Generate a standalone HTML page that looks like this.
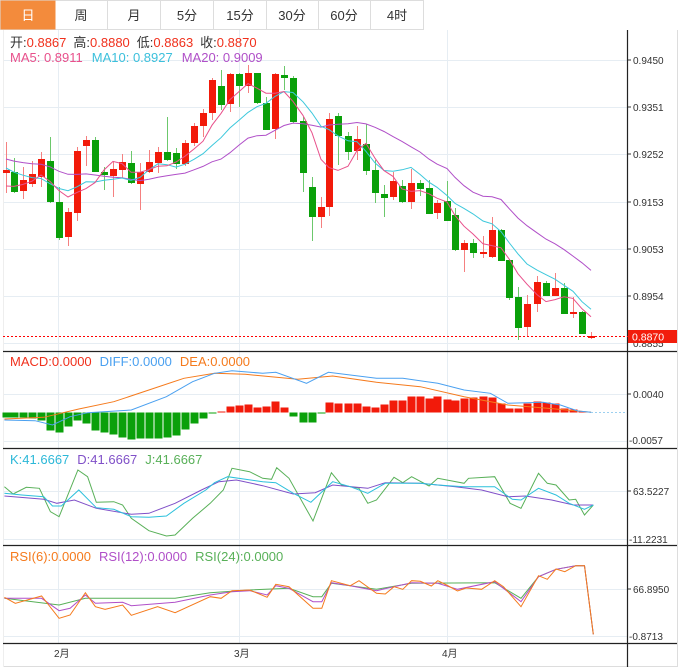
<!DOCTYPE html><html><head><meta charset="utf-8"><style>
body{margin:0;background:#fff;width:683px;height:670px;overflow:hidden;font-family:"Liberation Sans","Noto Sans CJK SC",sans-serif}
svg{position:absolute;left:0;top:0}
text{font-family:"Liberation Sans","Noto Sans CJK SC",sans-serif}
</style></head><body>
<svg id="s" width="683" height="670" xmlns="http://www.w3.org/2000/svg">
<rect x="0" y="0" width="683" height="670" fill="#fff"/>
<rect x="0.5" y="0.5" width="423" height="29" fill="#fff" stroke="#ddd"/>
<rect x="0.5" y="0.5" width="55" height="29" fill="#F38B3C"/>
<g stroke="#ddd"><line x1="107.5" y1="0" x2="107.5" y2="30"/><line x1="160.5" y1="0" x2="160.5" y2="30"/><line x1="213.5" y1="0" x2="213.5" y2="30"/><line x1="266.5" y1="0" x2="266.5" y2="30"/><line x1="318.5" y1="0" x2="318.5" y2="30"/><line x1="370.5" y1="0" x2="370.5" y2="30"/></g>
<g font-size="13" text-anchor="middle" fill="#333">
<text x="28" y="20" fill="#fff">日</text><text x="81" y="20">周</text><text x="134" y="20">月</text><text x="187" y="20">5分</text><text x="240" y="20">15分</text><text x="292" y="20">30分</text><text x="344" y="20">60分</text><text x="397" y="20">4时</text></g>
<line x1="3" y1="666.5" x2="677" y2="666.5" stroke="#ddd"/>
<line x1="677.5" y1="30" x2="677.5" y2="667" stroke="#ddd"/>
<line x1="3.5" y1="30" x2="3.5" y2="667" stroke="#eee"/>
<g id="grid" stroke="#e6edf3" stroke-width="1"></g>
<g id="draw"></g>
<g stroke="#222" stroke-width="1.2">
<line x1="3" y1="351.5" x2="677" y2="351.5"/><line x1="3" y1="448.5" x2="677" y2="448.5"/><line x1="3" y1="545.5" x2="677" y2="545.5"/><line x1="3" y1="643.5" x2="677" y2="643.5"/>
<line x1="627.5" y1="30" x2="627.5" y2="667"/></g>
<g font-size="10" fill="#333">
<text x="633" y="64">0.9450</text><text x="633" y="111">0.9351</text><text x="633" y="158">0.9252</text><text x="633" y="206">0.9153</text><text x="633" y="253">0.9053</text><text x="633" y="300">0.8954</text>
<text x="633" y="347">0.8855</text>
<text x="633" y="398">0.0040</text><text x="629" y="444">-0.0057</text>
<text x="633" y="495">63.5227</text><text x="629" y="543">-11.2231</text>
<text x="633" y="593">66.8950</text><text x="629" y="640">-0.8713</text>
<text x="54" y="657">2月</text><text x="234" y="657">3月</text><text x="442" y="657">4月</text>
</g>
<g stroke="#333"><line x1="628" y1="60" x2="631" y2="60"/><line x1="628" y1="107" x2="631" y2="107"/><line x1="628" y1="154" x2="631" y2="154"/><line x1="628" y1="202" x2="631" y2="202"/><line x1="628" y1="249" x2="631" y2="249"/><line x1="628" y1="296" x2="631" y2="296"/><line x1="628" y1="394" x2="631" y2="394"/><line x1="628" y1="491" x2="631" y2="491"/><line x1="628" y1="589" x2="631" y2="589"/></g>
<line x1="3" y1="336.5" x2="628" y2="336.5" stroke="#f00" stroke-dasharray="2,2"/>
<rect x="628" y="330" width="49" height="13" fill="#f21d0c"/>
<text x="632" y="340.5" font-size="10.5" fill="#fff">0.8870</text>
<g font-size="13">
<text x="10" y="47"><tspan fill="#333">开:</tspan><tspan fill="#f0301c">0.8867</tspan><tspan fill="#333" dx="7">高:</tspan><tspan fill="#f0301c">0.8880</tspan><tspan fill="#333" dx="7">低:</tspan><tspan fill="#f0301c">0.8863</tspan><tspan fill="#333" dx="7">收:</tspan><tspan fill="#f0301c">0.8870</tspan></text>
<text x="10" y="62"><tspan fill="#e8508b">MA5: 0.8911</tspan><tspan fill="#3cc0dc" dx="9">MA10: 0.8927</tspan><tspan fill="#b04fc8" dx="9">MA20: 0.9009</tspan></text>
<text x="10" y="366"><tspan fill="#f0301c">MACD:0.0000</tspan><tspan fill="#4aa0f0" dx="8">DIFF:0.0000</tspan><tspan fill="#f57a1c" dx="8">DEA:0.0000</tspan></text>
<text x="10" y="464"><tspan fill="#2cb8d8">K:41.6667</tspan><tspan fill="#8050c8" dx="8">D:41.6667</tspan><tspan fill="#58b058" dx="8">J:41.6667</tspan></text>
<text x="10" y="561"><tspan fill="#f57a1c">RSI(6):0.0000</tspan><tspan fill="#b04fc8" dx="8">RSI(12):0.0000</tspan><tspan fill="#58b058" dx="8">RSI(24):0.0000</tspan></text>
</g>
</svg>
<script>
var NS="http://www.w3.org/2000/svg",D=document.getElementById("draw"),G=document.getElementById("grid");
function el(t,a,p){var e=document.createElementNS(NS,t);for(var k in a)e.setAttribute(k,a[k]);(p||D).appendChild(e);return e;}
[60,107,154,202,249,296,343,394,441,491,539,589,636].forEach(function(y){el("line",{x1:4,y1:y+.5,x2:627,y2:y+.5},G)});
[58,239,447].forEach(function(x){el("line",{x1:x+.5,y1:30,x2:x+.5,y2:643},G)});
var C=[[6,170,173,142,193,1],[14,172,192,158,193,0],[23,180,191,167,199,1],[32,174,184,161,187,1],[41,159,177,152,187,1],[50,161,202,137,203,0],[59,202,238,187,240,0],[68,212,237,208,246,1],[77,151,213,147,221,1],[86,140,146,136,166,1],[95,140,172,137,172,0],[104,172,175,167,190,0],[113,169,176,162,197,1],[122,162,170,154,178,1],[131,163,183,151,184,0],[140,172,184,163,210,1],[149,162,172,150,173,1],[158,152,163,147,173,1],[167,152,160,117,161,0],[176,153,164,148,169,0],[185,143,164,140,166,1],[194,126,143,123,146,1],[203,113,126,109,137,1],[212,80,113,78,120,1],[221,86,105,70,110,0],[230,74,104,73,112,1],[239,74,86,73,107,0],[248,73,86,65,93,1],[257,73,103,73,104,0],[266,103,130,97,130,0],[275,74,129,73,139,1],[284,75,78,66,90,0],[293,78,122,76,123,0],[303,121,173,117,192,0],[312,187,217,177,241,0],[321,207,217,197,228,1],[329,119,207,113,216,1],[338,116,136,113,165,0],[348,136,152,132,160,0],[357,139,151,126,160,1],[366,144,171,124,175,0],[375,170,193,160,203,0],[384,194,198,185,217,0],[393,181,197,172,200,1],[402,186,202,180,203,0],[411,183,202,169,209,1],[420,183,189,180,196,0],[429,188,214,180,214,0],[437,203,213,200,219,1],[447,201,221,181,221,0],[455,215,250,208,251,0],[464,243,250,240,272,1],[473,243,253,239,258,0],[483,252,254,236,258,1],[492,230,257,217,258,1],[501,230,261,229,261,0],[509,260,298,259,300,0],[518,297,328,287,340,0],[527,304,327,295,337,1],[537,282,304,276,312,1],[546,283,296,281,296,0],[555,288,296,273,296,1],[564,288,314,283,314,0],[573,312,314,297,318,1],[582,312,334,311,334,0],[591,336,338,332,339,1]];
var pre=[150,150,150,150,150,150,150,150,150,150,150,150,150,150,150,190,190,190,190];
var closes=pre.slice();
C.forEach(function(c){var col=c[5]?"#f21a0a":"#0aa00a",wc=c[5]?"#f58080":"#6cc86c";
el("line",{x1:c[0]+.5,y1:c[3],x2:c[0]+.5,y2:c[4],stroke:wc});
el("rect",{x:c[0]-3,y:c[1],width:7,height:Math.max(2,c[2]-c[1]),fill:col});
closes.push(c[5]?c[1]:c[2]);});
function ma(n,color){var pts=[];for(var i=0;i<C.length;i++){var j=i+pre.length,s=0;for(var k=0;k<n;k++)s+=closes[j-k];pts.push(C[i][0]+","+(s/n).toFixed(1));}
el("polyline",{points:pts.join(" "),fill:"none",stroke:color,"stroke-width":1});}
ma(20,"#b04fc8");ma(10,"#3cc8dc");ma(5,"#e8508b");
var H=[-5,-5,-5,-6,-8,-18,-20,-14,-8,-11,-18,-20,-22,-25,-27,-26,-26,-26,-25,-23,-17,-11,-6,-1,1,6,7,8,5,6,11,5,-4,-10,-10,-1,10,9,9,9,6,5,8,12,12,16,16,14,16,13,12,14,15,16,15,9,4,4,9,11,10,9,4,3,1,0];
var z=412.5;
H.forEach(function(h,i){var x=C[i][0];if(h==0)return;el("rect",{x:x-3.5,y:h>0?z-h:z,width:8,height:Math.abs(h),fill:h>0?"#f21a0a":"#0aa00a"});});
function pl(arr,color,sw){var p=[];for(var i=0;i<arr.length;i+=2)p.push((arr[i]/2.284).toFixed(1)+","+(340+arr[i+1]/3).toFixed(1));el("polyline",{points:p.join(" "),fill:"none",stroke:color,"stroke-width":sw||1});}
pl([10,237,100,232,180,207,260,185,340,150,420,115,490,100,560,103,680,118,760,108,860,127,960,140,1060,170,1160,195,1250,205,1350,217],"#f57a1c");
pl([10,240,80,242,120,255,160,230,200,218,300,210,380,170,440,125,490,100,530,92,600,100,630,97,700,130,750,97,800,105,860,115,920,115,1000,130,1060,150,1120,160,1160,190,1200,188,1240,187,1280,195,1320,213,1350,217],"#4aa0f0");
el("line",{x1:591,y1:412.5,x2:626,y2:412.5,stroke:"#9cd0f0","stroke-dasharray":"2,2"});
pl([10,440,30,462,60,442,90,445,115,515,135,530,178,390,200,410,220,487,260,485,280,495,300,535,340,572,380,588,400,585,440,535,480,490,510,450,530,385,570,395,600,415,620,418,632,383,660,415,715,543,757,398,780,435,820,445,840,490,860,480,900,412,920,428,940,410,980,438,1000,415,1060,430,1070,415,1130,410,1165,490,1190,505,1230,400,1250,430,1270,435,1300,480,1315,478,1335,525,1355,495],"#58b058");
pl([10,468,100,478,130,490,170,480,220,505,300,523,340,520,400,490,460,450,500,425,540,420,600,437,670,462,720,458,760,435,840,445,880,428,960,430,1040,440,1100,450,1160,470,1200,468,1260,480,1310,495,1355,495],"#8050c8");
pl([10,460,50,465,100,470,120,498,140,498,180,450,220,503,260,508,300,530,340,532,380,528,420,490,470,450,490,428,520,410,600,425,630,428,670,460,710,487,760,425,800,440,840,460,880,430,960,430,1000,435,1060,440,1130,440,1170,478,1190,480,1230,445,1270,465,1300,490,1335,508,1355,495],"#2cc0dc");
pl([10,775,135,795,195,775,400,775,480,758,570,750,660,745,715,770,735,770,757,730,860,748,940,730,1130,728,1190,775,1230,710,1270,688,1315,677,1335,677,1355,883],"#58b058");
pl([10,775,95,775,135,812,160,805,195,765,218,790,280,787,300,797,400,787,480,765,530,755,570,752,610,765,630,737,660,745,715,785,735,785,757,728,800,737,860,752,940,728,1000,730,1045,748,1130,725,1190,785,1230,710,1270,688,1315,677,1335,677,1355,883],"#b04fc8");
pl([10,772,35,790,95,768,135,835,160,825,195,758,218,800,240,808,280,795,300,826,360,800,400,818,480,770,505,775,530,752,570,750,610,772,630,733,660,740,715,805,735,805,757,722,800,737,820,722,860,760,880,762,900,740,920,748,940,722,960,724,985,738,1000,722,1020,735,1045,753,1065,744,1100,748,1130,722,1150,740,1190,800,1230,707,1250,718,1270,687,1290,695,1315,677,1335,677,1355,883],"#f57a1c");
</script>
</body></html>
